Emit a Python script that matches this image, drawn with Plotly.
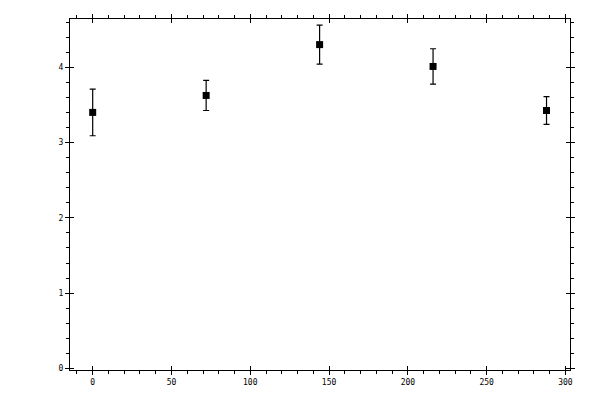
import plotly.graph_objects as go

x_vals = [0, 72, 144, 216, 288]
y_vals = [3.40, 3.625, 4.30, 4.01, 3.425]
y_err = [0.31, 0.20, 0.26, 0.235, 0.185]

x_range = [-14.4, 302.9]
y_range = [-0.02, 4.64]

font = dict(family="DejaVu Sans Mono", size=8, color="black")

fig = go.Figure()
fig.add_trace(go.Scatter(
    x=x_vals, y=y_vals, mode="markers",
    marker=dict(symbol="square", size=7, color="black"),
    error_y=dict(type="data", array=y_err, visible=True, color="black", thickness=1.2, width=3),
    showlegend=False, hoverinfo="skip", cliponaxis=False,
))
# invisible trace to host the overlay axes that draw the inner half of major ticks
fig.add_trace(go.Scatter(
    x=x_vals, y=y_vals, mode="markers", xaxis="x2", yaxis="y2",
    marker=dict(opacity=0), showlegend=False, hoverinfo="skip",
))

common = dict(showgrid=False, zeroline=False, linecolor="black", linewidth=1,
              tickcolor="black", tickwidth=1, tickfont=font, automargin=False)

fig.update_layout(
    template="none",
    width=600, height=400,
    margin=dict(l=62, r=38, t=11, b=38, autoexpand=False),
    paper_bgcolor="white", plot_bgcolor="white",
    xaxis=dict(range=x_range, dtick=50, ticks="outside", ticklen=4, showline=True,
               mirror="ticks", minor=dict(dtick=10, ticks="outside", ticklen=3, tickcolor="black"),
               **common),
    yaxis=dict(range=y_range, dtick=1, ticks="outside", ticklen=4, showline=True,
               mirror="ticks", minor=dict(dtick=0.2, ticks="outside", ticklen=3, tickcolor="black"),
               **common),
    xaxis2=dict(range=x_range, dtick=50, ticks="inside", ticklen=4, showline=False,
                mirror="ticks", overlaying="x", anchor="y2", showticklabels=False,
                showgrid=False, zeroline=False, tickcolor="black", tickwidth=1, automargin=False),
    yaxis2=dict(range=y_range, dtick=1, ticks="inside", ticklen=4, showline=False,
                mirror="ticks", overlaying="y", anchor="x2", showticklabels=False,
                showgrid=False, zeroline=False, tickcolor="black", tickwidth=1, automargin=False),
)

fig.write_html("out.html")
